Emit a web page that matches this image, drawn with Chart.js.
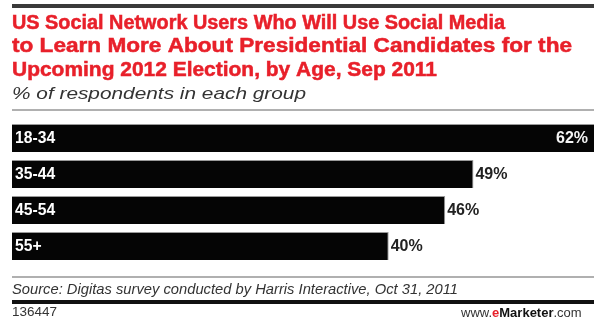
<!DOCTYPE html>
<html>
<head>
<meta charset="utf-8">
<script src="https://cdn.jsdelivr.net/npm/chart.js@4"></script>
<style>
  html, body { margin: 0; padding: 0; background: #fff; }
  #wrap { width: 594px; height: 322px; position: relative; }
</style>
</head>
<body>
<div id="wrap"><canvas id="ageChart" width="594" height="322"></canvas></div>
<script>
// data
const ageGroups = ["18-34", "35-44", "45-54", "55+"];
const shareValues = [62, 49, 46, 40];
const titleLines = [
  "US Social Network Users Who Will Use Social Media",
  "to Learn More About Presidential Candidates for the",
  "Upcoming 2012 Election, by Age, Sep 2011",
];
const subtitle = "% of respondents in each group";
const sourceText = "Source: Digitas survey conducted by Harris Interactive, Oct 31, 2011";
const chartId = "136447";

// draw text squeezed/stretched to a given width
function fitText(ctx, text, x, y, width, stroke) {
  const w = ctx.measureText(text).width;
  ctx.save();
  ctx.translate(x, y);
  ctx.scale(width / w, 1);
  ctx.fillText(text, 0, 0);
  if (stroke) {
    ctx.strokeStyle = ctx.fillStyle;
    ctx.lineWidth = stroke;
    ctx.strokeText(text, 0, 0);
  }
  ctx.restore();
}

const frame = {
  id: "frame",
  afterDraw(chart) {
    const ctx = chart.ctx;
    ctx.save();
    ctx.textBaseline = "alphabetic";
    ctx.textAlign = "left";

    // top rule
    ctx.fillStyle = "#3a3a3a";
    ctx.fillRect(12, 4, 582, 4);

    // title
    ctx.fillStyle = "#e8202a";
    ctx.font = "bold 20px 'Liberation Sans', Arial, sans-serif";
    fitText(ctx, titleLines[0], 12, 28.5, 493, 0.5);
    fitText(ctx, titleLines[1], 12, 52, 560, 0.5);
    fitText(ctx, titleLines[2], 12, 75.5, 425, 0.5);

    // subtitle
    ctx.fillStyle = "#333";
    ctx.font = "italic 17px 'Liberation Sans', Arial, sans-serif";
    fitText(ctx, subtitle, 12, 99, 294);

    // rule under header
    ctx.fillStyle = "#b0b0b0";
    ctx.fillRect(12, 109, 582, 2);

    // bar labels
    const meta = chart.getDatasetMeta(0);
    ctx.font = "bold 16px 'Liberation Sans', Arial, sans-serif";
    ctx.textBaseline = "middle";
    meta.data.forEach((bar, i) => {
      ctx.fillStyle = "#fff";
      fitText(ctx, ageGroups[i], bar.base + 3, bar.y + 1, ctx.measureText(ageGroups[i]).width * 0.98);
      const label = shareValues[i] + "%";
      const lw = ctx.measureText(label).width;
      if (bar.x >= chart.chartArea.right - 1) {
        ctx.fillStyle = "#f4f4f4";
        fitText(ctx, label, chart.chartArea.right - 6 - lw, bar.y + 1, lw);
      } else {
        ctx.fillStyle = "#222";
        fitText(ctx, label, bar.x + 2, bar.y + 1, lw);
      }
    });

    // footer
    ctx.textBaseline = "alphabetic";
    ctx.fillStyle = "#b0b0b0";
    ctx.fillRect(12, 276, 582, 2);
    ctx.fillStyle = "#333";
    ctx.font = "italic 15px 'Liberation Sans', Arial, sans-serif";
    fitText(ctx, sourceText, 12, 294, 446);
    ctx.fillStyle = "#111";
    ctx.fillRect(12, 300, 582, 4);

    ctx.fillStyle = "#333";
    ctx.font = "12px 'Liberation Sans', Arial, sans-serif";
    fitText(ctx, chartId, 12, 316, 45);

    // www.eMarketer.com
    let x = 461;
    ctx.font = "13px 'Liberation Sans', Arial, sans-serif";
    ctx.fillStyle = "#333";
    ctx.fillText("www.", x, 317);
    x += ctx.measureText("www.").width;
    ctx.font = "bold 13px 'Liberation Sans', Arial, sans-serif";
    ctx.fillStyle = "#e8202a";
    ctx.fillText("e", x, 317);
    x += ctx.measureText("e").width;
    ctx.fillStyle = "#111";
    ctx.fillText("Marketer", x, 317);
    x += ctx.measureText("Marketer").width;
    ctx.font = "13px 'Liberation Sans', Arial, sans-serif";
    ctx.fillStyle = "#333";
    ctx.fillText(".com", x, 317);

    ctx.restore();
  },
};

window.onload = function () {
  const ctx = document.getElementById("ageChart").getContext("2d");
  new Chart(ctx, {
    type: "bar",
    data: {
      labels: ageGroups,
      datasets: [
        {
          data: shareValues,
          backgroundColor: "#050505",
          borderColor: "#9a9a9a",
          borderWidth: { top: 1, right: 1, bottom: 0, left: 0 },
          borderSkipped: false,
          categoryPercentage: 1,
          barPercentage: 0.78,
        },
      ],
    },
    options: {
      indexAxis: "y",
      responsive: false,
      animation: false,
      layout: {
        padding: { left: 12, right: 0, top: 120, bottom: 58 },
      },
      plugins: {
        legend: { display: false },
        tooltip: { enabled: false },
      },
      scales: {
        x: { display: false, min: 0, max: 61.8 },
        y: { display: false },
      },
    },
    plugins: [frame],
  });
};
</script>
</body>
</html>
